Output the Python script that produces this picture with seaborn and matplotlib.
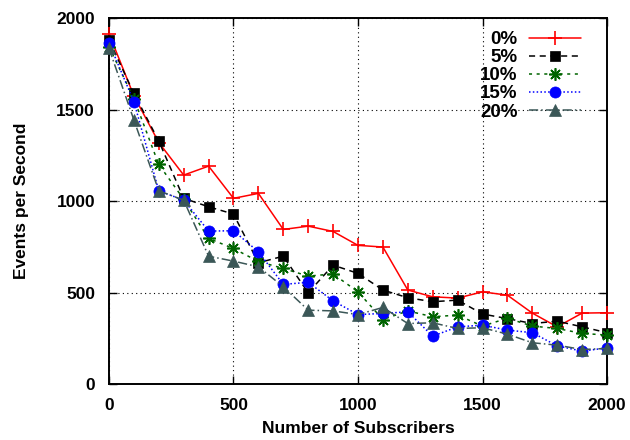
import matplotlib
matplotlib.use("Agg")
import matplotlib.pyplot as plt
import seaborn as sns
import pandas as pd

# dados
subscribers = list(range(0, 2001, 100))
series_labels = ["0%", "5%", "10%", "15%", "20%"]
eps_0 = [1915, 1575, 1320, 1142, 1191, 1015, 1042, 845, 863, 834, 758, 749,
         514, 477, 470, 504, 486, 388, 313, 388, 390]
eps_5 = [1880, 1588, 1328, 1015, 969, 929, 663, 699, 499, 650, 605, 514,
         472, 450, 459, 383, 358, 331, 344, 313, 281]
eps_10 = [1843, 1560, 1200, 1010, 796, 741, 670, 632, 590, 602, 504, 353,
          400, 368, 377, 317, 360, 317, 304, 277, 268]
eps_15 = [1865, 1543, 1056, 1005, 836, 838, 723, 545, 556, 455, 380, 386,
          395, 262, 313, 322, 295, 281, 209, 180, 198]
eps_20 = [1834, 1443, 1056, 1005, 699, 672, 641, 532, 404, 400, 380, 419,
          331, 335, 304, 308, 273, 226, 213, 189, 195]

df = pd.DataFrame({
    "subs": subscribers * 5,
    "eps": eps_0 + eps_5 + eps_10 + eps_15 + eps_20,
    "serie": [s for s in series_labels for _ in subscribers],
})

sns.set_style("ticks")
plt.rcParams["font.family"] = ["Liberation Sans", "DejaVu Sans"]
plt.rcParams["font.weight"] = "bold"
for k in ["text.color", "axes.labelcolor", "xtick.color", "ytick.color", "axes.edgecolor"]:
    plt.rcParams[k] = "black"

estilos = {
    "0%": dict(color="#ff0000", ls="-", marker="+", ms=10, mew=1.2),
    "5%": dict(color="#000000", ls=(0, (4, 3)), marker="s", ms=7.8, mew=0.5),
    "10%": dict(color="#006400", ls=(0, (2, 3)), marker=(8, 2, 0), ms=9, mew=1.2),
    "15%": dict(color="#0000ff", ls=(0, (1, 1.5)), marker="o", ms=8, mew=0.5),
    "20%": dict(color="#3b5757", ls=(0, (6, 2, 1, 2)), marker="^", ms=8, mew=0.5),
}

fig = plt.figure(figsize=(6.3, 4.4), dpi=100)
ax = fig.add_axes([0.173, 0.127, 0.7905, 0.832])

for s in series_labels:
    e = estilos[s]
    sns.lineplot(data=df[df.serie == s], x="subs", y="eps", ax=ax, label=s,
                 color=e["color"], linestyle=e["ls"], marker=e["marker"],
                 markersize=e["ms"], markeredgewidth=e["mew"],
                 markeredgecolor=e["color"], linewidth=1.1, clip_on=False,
                 zorder=3)

ax.set_xlim(0, 2000)
ax.set_ylim(0, 2000)
ax.set_xticks([0, 500, 1000, 1500, 2000])
ax.set_yticks([0, 500, 1000, 1500, 2000])
ax.grid(True, color="black", linestyle=(0, (1, 3)), linewidth=0.8)
ax.tick_params(direction="in", length=6, width=1, top=True, right=True,
               labelsize=12.5, pad=10)
for lab in ax.get_xticklabels() + ax.get_yticklabels():
    lab.set_fontweight("bold")
for sp in ax.spines.values():
    sp.set_linewidth(1.4)
    sp.set_visible(True)

ax.set_xlabel("Number of Subscribers", fontsize=12.5, fontweight="bold", labelpad=6)
ax.set_ylabel("Events per Second", fontsize=12.5, fontweight="bold", labelpad=20)

# estilo gnuplot: rotulo a esquerda, amostra da linha a direita
ax.legend(loc="upper right", frameon=False, markerfirst=False,
          fontsize=13.5, handlelength=2.8, labelspacing=0.05,
          borderaxespad=0.3, handletextpad=0.6, bbox_to_anchor=(0.975, 1.0))

fig.savefig("out.png", dpi=100)
plt.close()
